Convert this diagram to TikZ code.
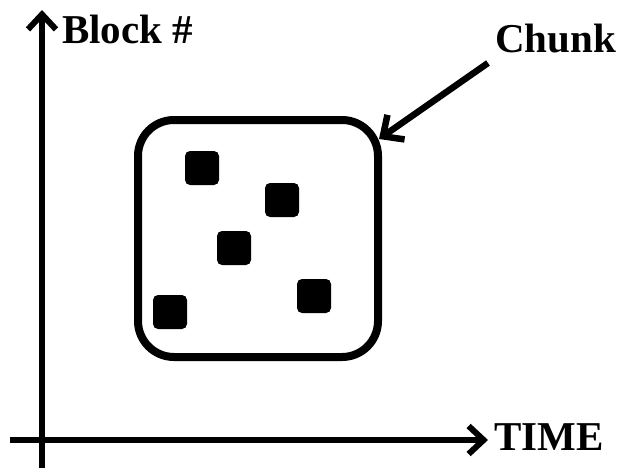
\documentclass[tikz,border=0pt]{standalone}
\usepackage{fontspec}
\setmainfont{Liberation Serif}
\usetikzlibrary{arrows.meta}
\begin{document}
\begin{tikzpicture}[x=1pt,y=-1pt,
  axis/.style={line width=6pt,-{Straight Barb[length=15pt,width=28pt]}},
  pointer/.style={line width=6.5pt,-{Straight Barb[length=16pt,width=30pt]}},
  label/.style={inner sep=0pt,anchor=base west,font=\bfseries\fontsize{41}{41}\selectfont},
  chunkbox/.style={draw,line width=8pt,rounded corners=36pt,minimum width=240pt,minimum height=237pt,inner sep=0pt},
  blk/.style={fill=black,rounded corners=5pt,minimum size=34pt,inner sep=0pt}]
\useasboundingbox (0,0) rectangle (621,469);
% axes
\coordinate (yfoot) at (42,468);
\coordinate (ytip) at (42,10);
\coordinate (xfoot) at (10,440);
\coordinate (xtip) at (488,440);
\draw[axis] (yfoot) -- (ytip);
\draw[axis] (xfoot) -- (xtip);
% axis labels
\node[label] (blocklbl) at (62,43) {Block \#};
\node[label] (timelbl) at (494,450) {TIME};
\node[label] (chunklbl) at (495,52) {Chunk};
% chunk outline
\node[chunkbox] (chunk) at (258,238.5) {};
% blocks
\node[blk] (b1) at (202,168) {};
\node[blk] (b2) at (282,200) {};
\node[blk] (b3) at (234,248) {};
\node[blk] (b4) at (170,312) {};
\node[blk] (b5) at (314,296) {};
% pointer from label to chunk
\coordinate (ptail) at (488,63);
\coordinate (phead) at (379,139);
\draw[pointer] (ptail) -- (phead);
\end{tikzpicture}
\end{document}
